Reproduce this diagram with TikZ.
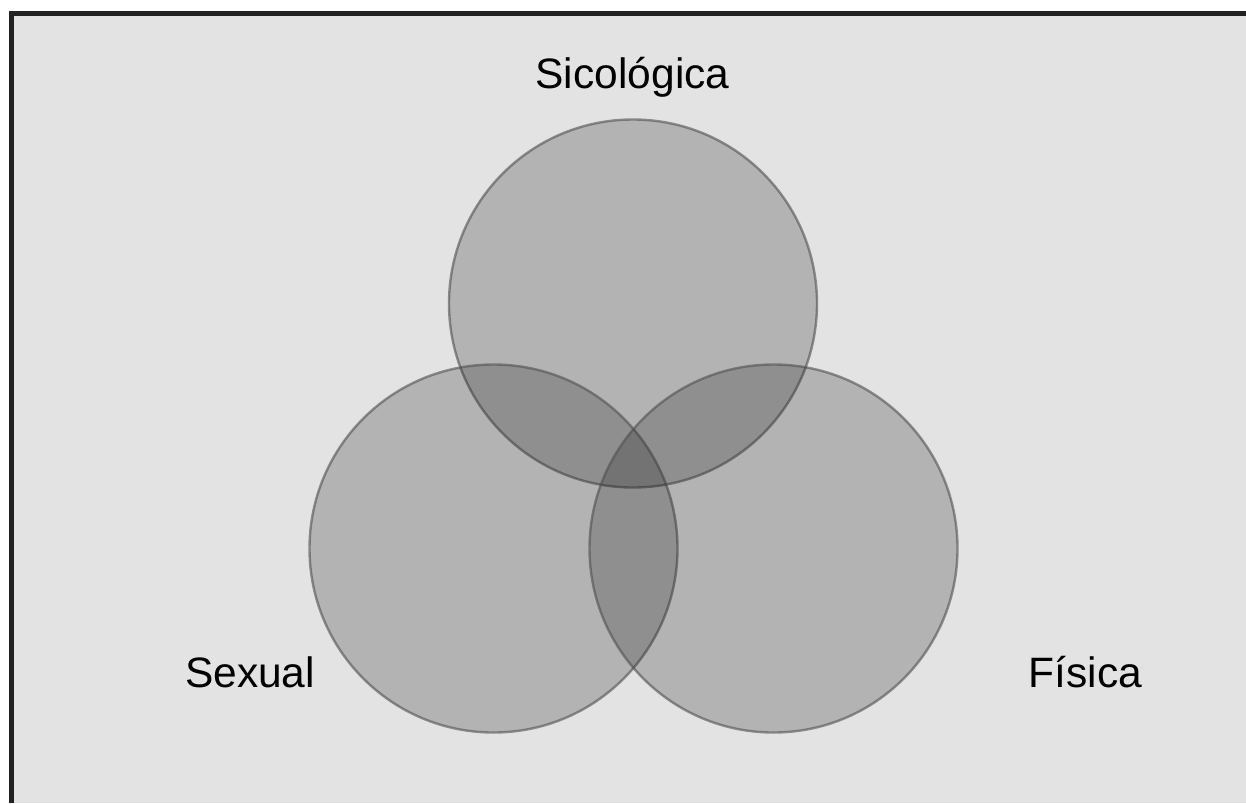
\documentclass[tikz,border=0pt]{standalone}
\usepackage{fontspec}
\setmainfont{Liberation Sans}
\definecolor{bgc}{HTML}{E3E3E3}
\definecolor{framec}{HTML}{222222}
\definecolor{circfill}{HTML}{1E1E1E}
\definecolor{circline}{HTML}{505050}
\begin{document}
\begin{tikzpicture}[x=1pt,y=-1pt,
  venn/.style={circle, inner sep=0pt, minimum size=368pt, fill=circfill, fill opacity=0.24, draw=circline, draw opacity=0.6, line width=2.4pt},
  lbl/.style={font=\fontsize{42.5}{50}\selectfont, anchor=base, text=black, inner sep=0pt}]
\useasboundingbox (0,0) rectangle (1246,803);
\fill[white] (0,0) rectangle (1246,803);
\fill[bgc] (9,11) rectangle (1246,803);
\draw[framec, line width=4.6pt] (11.3,803) -- (11.3,13.5) -- (1246,13.5);
\node[venn] (psy) at (633,303.5) {};
\node[venn] (sex) at (493.5,548.5) {};
\node[venn] (phy) at (773.5,548.5) {};
\node[lbl] (lpsy) at (632.5,88) {Sicológica};
\node[lbl] (lsex) at (250,687) {Sexual};
\node[lbl] (lphy) at (1085.5,687) {Física};
\end{tikzpicture}
\end{document}
